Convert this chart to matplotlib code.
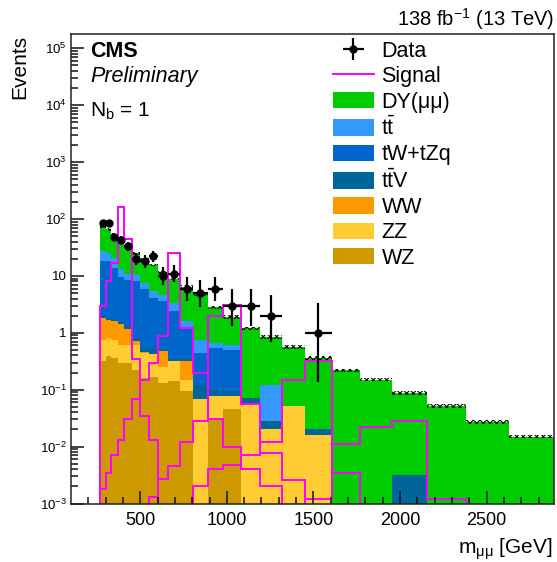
import numpy as np
import matplotlib
matplotlib.use('Agg')
import matplotlib.pyplot as plt
from matplotlib.patches import Patch
from matplotlib.lines import Line2D

plt.rcParams['font.family'] = ['Liberation Sans', 'DejaVu Sans']
plt.rcParams['mathtext.fontset'] = 'custom'
plt.rcParams['mathtext.rm'] = 'Liberation Sans'
plt.rcParams['mathtext.it'] = 'Liberation Sans:italic'
plt.rcParams['mathtext.bf'] = 'Liberation Sans:bold'
plt.rcParams['hatch.linewidth'] = 0.8

# bin edges of m_mumu [GeV]
edges = [269, 301, 333, 369, 408, 452, 500, 549, 601, 659, 728, 806, 889,
         979, 1081, 1192, 1318, 1452, 1606, 1769, 1952, 2158, 2381, 2631, 2889]

# backgrounds, events per bin (stack order bottom -> top)
wz = [0.32, 0.39, 0.36, 0.30, 0.30, 0.22, 0.16, 0.17, 0.13, 0.14, 0.096, 0, 0.03,
      0.045, 0, 0, 0, 0, 0, 0, 0, 0, 0, 0]
zz = [0.44, 0.43, 0.40, 0.32, 0.32, 0.38, 0.28, 0.25, 0.12, 0.18, 0.054, 0.07, 0.048,
      0.033, 0.056, 0.020, 0.051, 0.016, 0, 0, 0, 0, 0, 0]
ww = [1.09, 0.88, 0.84, 0.83, 0.53, 0.12, 0.02, 0, 0.23, 0, 0.17, 0, 0,
      0, 0, 0, 0, 0, 0, 0, 0, 0, 0, 0]
ttv = [0.10, 0.10, 0.10, 0.10, 0.15, 0.06, 0.09, 0.09, 0.02, 0.02, 0.02, 0.05, 0.022,
       0.017, 0.015, 0.008, 0, 0.004, 0, 0, 0.0032, 0, 0, 0]
tw = [16.5, 16.2, 12.3, 7.95, 7.2, 7.3, 5.25, 3.6, 3.1, 2.06, 0.88, 0.33, 0.45,
      0.405, 0, 0, 0, 0, 0, 0, 0, 0, 0, 0]
tt = [8.5, 7.0, 7.0, 3.5, 2.5, 2.4, 1.7, 1.3, 1.1, 1.0, 0.38, 0.31, 0.12,
      0.10, 0, 0.095, 0, 0, 0, 0, 0, 0, 0, 0]
dy = [46, 41, 34, 29, 22, 14.5, 12, 10.1, 6.8, 5.4, 4.9, 4.0, 2.13,
      1.3, 1.13, 0.72, 0.51, 0.34, 0.22, 0.15, 0.084, 0.052, 0.027, 0.015]
unc_rel = [0.05] * 12 + [0.07] * 12

data = [84, 84, 49, 43, 33, 20, 18, 22, 10, 11, 6, 5, 6, 3, 3, 2, 0, 1,
        0, 0, 0, 0, 0, 0]

# signal templates
sig_400 = [2.9, 8, 17, 160, 45, 0.34, 0.035, 0.013, 0, 0, 0, 0, 0, 0, 0, 0, 0, 0,
           0, 0, 0, 0, 0, 0]
sig_700 = [0.0018, 0.0035, 0.007, 0.013, 0.03, 0.068, 0.15, 0.30, 0.87, 25, 1.22, 0.20,
           0.03, 0.01, 0.004, 0.002, 0, 0, 0, 0, 0, 0, 0, 0]
sig_1000 = [0, 0, 0, 0, 0, 0, 0, 0.0013, 0.0027, 0.0046, 0.012, 0.028, 2.0, 3.1,
            0.055, 0.0078, 0.0026, 0, 0, 0, 0, 0, 0, 0]
sig_1500 = [0, 0, 0, 0, 0, 0, 0, 0, 0, 0, 0, 0.002, 0.0041, 0.0048, 0.007, 0.012,
            0.15, 0.32, 0.0034, 0, 0, 0, 0, 0]
sig_2000 = [0, 0, 0, 0, 0, 0, 0, 0, 0, 0, 0, 0, 0, 0, 0, 0, 0, 0.0012, 0.011,
            0.022, 0.028, 0.0012, 0, 0]

labels = ['DY(μμ)', r't$\bar{\mathrm{t}}$', 'tW+tZq', r't$\bar{\mathrm{t}}$V', 'WW', 'ZZ', 'WZ']
colors = ['#00cc00', '#3399ff', '#0066cc', '#006699', '#ff9900', '#ffcc33', '#cc9900']

edges = np.array(edges, dtype=float)
comps = [np.array(c, dtype=float) for c in [wz, zz, ww, ttv, tw, tt, dy]]
cum = np.cumsum(comps, axis=0)
total = cum[-1]

fig = plt.figure(figsize=(5.57, 5.62), dpi=100)
ax = fig.add_axes([71 / 557, 1 - 503.5 / 562, 483 / 557, 470 / 562])
ax.set_yscale('log')

# stack, top layer first
floor = 1e-6
stack_cols = colors[::-1]
for i in range(len(comps) - 1, -1, -1):
    v = np.where(cum[i] > 0, cum[i], floor)
    ax.stairs(v, edges, baseline=floor, fill=True, color=stack_cols[i], lw=0)

# uncertainty band
unc = np.array(unc_rel) * total
ax.bar(edges[:-1], 2 * unc, bottom=total - unc, width=np.diff(edges), align='edge',
       fill=False, hatch='xxxxx', edgecolor='black', linewidth=0)

# signals
for s in [sig_400, sig_700, sig_1000, sig_1500, sig_2000]:
    s = np.array(s, dtype=float)
    ax.stairs(np.where(s > 0, s, floor), edges, baseline=floor, color='#ff00ff', lw=1.4)

# data
d = np.array(data, dtype=float)
centers = 0.5 * (edges[1:] + edges[:-1])
half = 0.5 * np.diff(edges)
m = d > 0
lo = d - np.where(d > 0, d - np.sqrt(np.maximum(d - 0.25, 0)), 0)
up = d + 1 + np.sqrt(d + 0.75)
eb = ax.errorbar(centers[m], d[m], xerr=half[m], yerr=[lo[m], up[m] - d[m]],
                 fmt='o', color='black', ms=5, lw=1.6, capsize=0)

ax.set_xlim(100, 2889)
ax.set_ylim(1e-3, 1.82e5)

ax.set_xticks([500, 1000, 1500, 2000, 2500])
ax.set_xticks(np.arange(200, 2900, 100), minor=True)
yt = [1e-3, 1e-2, 1e-1, 1, 10, 1e2, 1e3, 1e4, 1e5]
ax.set_yticks(yt)
ax.set_yticklabels([r'10$^{-3}$', r'10$^{-2}$', r'10$^{-1}$', '1', '10',
                    r'10$^{2}$', r'10$^{3}$', r'10$^{4}$', r'10$^{5}$'])
ax.yaxis.set_minor_locator(matplotlib.ticker.LogLocator(base=10, subs=np.arange(2, 10), numticks=20))
ax.yaxis.set_minor_formatter(matplotlib.ticker.NullFormatter())
ax.tick_params(axis='both', which='both', direction='in', top=False, right=False, width=1.1, color='#111111')
ax.tick_params(axis='both', which='major', length=9.5)
ax.tick_params(axis='both', which='minor', length=5)
ax.tick_params(axis='x', labelsize=13, pad=6)
ax.tick_params(axis='y', labelsize=9.5, pad=3)
for sp in ax.spines.values():
    sp.set_linewidth(1.1)
    sp.set_color('#222222')

fig.text(20 / 557, 1 - 35 / 562, 'Events', rotation=90, ha='center', va='top', fontsize=15)
fig.text(553 / 557, 1 - 554 / 562, r'm$_{\mathrm{μμ}}$ [GeV]', ha='right', va='baseline', fontsize=15)
fig.text(554 / 557, 1 - 26 / 562, r'138 fb$^{-1}$ (13 TeV)', ha='right', va='baseline', fontsize=14.5)
fig.text(90 / 557, 1 - 57 / 562, 'CMS', ha='left', va='baseline', fontsize=15.5, fontweight='bold')
fig.text(90 / 557, 1 - 82 / 562, 'Preliminary', ha='left', va='baseline', fontsize=15.5, fontstyle='italic')
fig.text(90 / 557, 1 - 117 / 562, r'N$_{\mathrm{b}}$ = 1', ha='left', va='baseline', fontsize=15)

handles = [eb, Line2D([], [], color='#ff00ff', lw=1.4)] + \
          [Patch(facecolor=c, edgecolor='none') for c in colors]
ax.legend(handles, ['Data', 'Signal'] + labels, loc='upper left',
          bbox_to_anchor=((333 - 71) / 483, (503.5 - 41) / 470), frameon=False,
          fontsize=15.5, handlelength=1.9, handleheight=0.8, handletextpad=0.35,
          labelspacing=0.2, borderpad=0, borderaxespad=0)

plt.savefig('out.png', dpi=100)
plt.close()
